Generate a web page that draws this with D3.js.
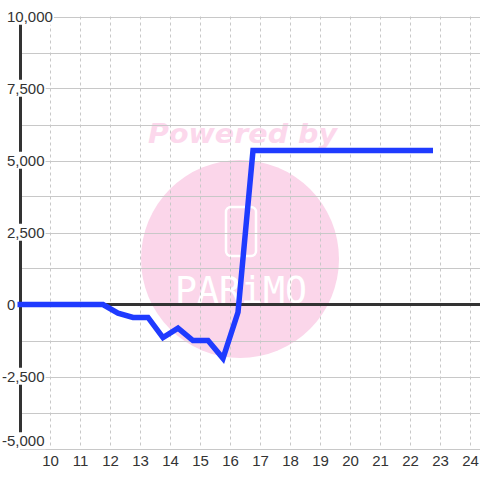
<!DOCTYPE html>
<html>
<head>
<meta charset="utf-8">
<script src="https://cdn.jsdelivr.net/npm/d3@7"></script>
<style>
  html, body { margin: 0; padding: 0; background: #ffffff; }
  svg { display: block; }
</style>
</head>
<body>
<svg id="chart" width="480" height="480"></svg>
<script>
// ---- data ----
const xValues = [8.9, 11.75, 12.25, 12.75, 13.25, 13.75, 14.25, 14.75, 15.25, 15.75, 16.25, 16.75, 22.75];
const yValues = [0, 0, -300, -450, -450, -1150, -820, -1250, -1250, -1870, -270, 5350, 5350];
const xTicks = [10, 11, 12, 13, 14, 15, 16, 17, 18, 19, 20, 21, 22, 23, 24];
const yTickLabels = [10000, 7500, 5000, 2500, 0, -2500, -5000];
const yGridValues = [10000, 8750, 7500, 6250, 5000, 3750, 2500, 1250, 0, -1250, -2500, -3750, -5000];
const watermarkTexts = ["Powered by", "PARiMO"];

const svg = d3.select("#chart");
const W = 480, H = 480;
const x = d3.scaleLinear().domain([9, 24.3333]).range([20.5, 480.5]);
const y = d3.scaleLinear().domain([-5000, 10000]).range([448.5, 16.5]);

svg.append("rect").attr("width", W).attr("height", H).attr("fill", "#ffffff");

// ---- watermark ----
const pink = "#fbd6ea";
const wm = svg.append("g");
wm.append("circle").attr("cx", 240).attr("cy", 259).attr("r", 99).attr("fill", pink);
wm.append("text")
  .attr("x", 148).attr("y", 143)
  .attr("font-family", "DejaVu Sans").attr("font-weight", "bold").attr("font-style", "italic")
  .attr("font-size", 27).attr("fill", "#fcd8ec")
  .attr("textLength", 189).attr("lengthAdjust", "spacingAndGlyphs")
  .text(watermarkTexts[0]);
wm.append("rect").attr("x", 226).attr("y", 207).attr("width", 30).attr("height", 49).attr("rx", 5)
  .attr("fill", "none").attr("stroke", "#ffffff").attr("stroke-width", 2.5);
wm.append("text")
  .attr("x", 175).attr("y", 303)
  .attr("font-family", "DejaVu Sans Mono").attr("font-weight", "normal")
  .attr("font-size", 38).attr("fill", "#ffffff")
  .attr("textLength", 132).attr("lengthAdjust", "spacingAndGlyphs")
  .text(watermarkTexts[1]);

// ---- grid ----
const grid = svg.append("g");
grid.selectAll("line.h").data(yGridValues.filter(v => v !== 0)).enter().append("line")
  .attr("x1", 20).attr("x2", W)
  .attr("y1", d => Math.round(y(d)) + 0.5).attr("y2", d => Math.round(y(d)) + 0.5)
  .attr("stroke", "#c8c8c8").attr("stroke-width", 1);
grid.selectAll("line.v").data(xTicks).enter().append("line")
  .attr("x1", d => x(d)).attr("x2", d => x(d))
  .attr("y1", y(10000)).attr("y2", y(-5000))
  .attr("stroke", "#c8c8c8").attr("stroke-width", 1).attr("stroke-dasharray", "3,3");

// ---- y axis line ----
svg.append("line")
  .attr("x1", 20.5).attr("x2", 20.5)
  .attr("y1", y(10000)).attr("y2", y(-5000))
  .attr("stroke", "#333333").attr("stroke-width", 3);

// ---- zero line ----
svg.append("line")
  .attr("x1", 20).attr("x2", W)
  .attr("y1", y(0)).attr("y2", y(0))
  .attr("stroke", "#333333").attr("stroke-width", 3);

// ---- y labels with white backgrounds ----
const fmt = d3.format(",");
const yl = svg.append("g");
yTickLabels.forEach(v => {
  const t = yl.append("text")
    .attr("x", v < 0 ? 2 : 7)
    .attr("y", Math.min(y(v), 441))
    .attr("dy", "0.35em")
    .attr("font-family", "Liberation Sans, Arial, sans-serif")
    .attr("font-size", 15).attr("fill", "#333333")
    .text(v < 0 ? "-" + fmt(-v) : fmt(v));
  const bb = t.node().getBBox();
  yl.insert("rect", () => t.node())
    .attr("x", bb.x - 1).attr("y", bb.y).attr("width", bb.width + 2).attr("height", bb.height)
    .attr("fill", "#ffffff");
});

// ---- x labels ----
svg.append("g").selectAll("text").data(xTicks).enter().append("text")
  .attr("x", d => x(d)).attr("y", 466)
  .attr("text-anchor", "middle")
  .attr("font-family", "Liberation Sans, Arial, sans-serif")
  .attr("font-size", 15).attr("fill", "#333333")
  .text(d => d);

// ---- series line ----
const pts = xValues.map((v, i) => [v, yValues[i]]);
svg.append("path")
  .datum(pts)
  .attr("d", d3.line().x(d => x(d[0])).y(d => y(d[1])))
  .attr("fill", "none").attr("stroke", "#1f3bff").attr("stroke-width", 5.5)
  .attr("stroke-linejoin", "miter").attr("stroke-linecap", "butt");
</script>
</body>
</html>
